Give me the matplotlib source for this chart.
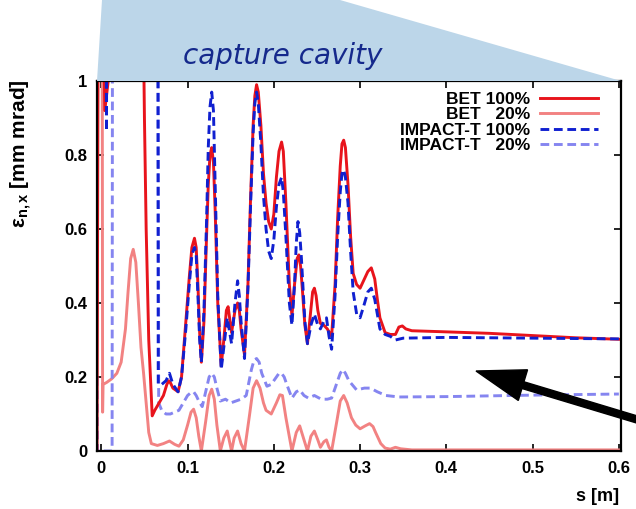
import matplotlib
matplotlib.use("Agg")
import matplotlib.pyplot as plt
from matplotlib.patches import Polygon, FancyArrow
from matplotlib.lines import Line2D

plt.rcParams["font.family"] = ["Liberation Sans", "DejaVu Sans"]
plt.rcParams["mathtext.fontset"] = "custom"
plt.rcParams["mathtext.rm"] = "Liberation Sans"
plt.rcParams["mathtext.bf"] = "Liberation Sans:bold"
plt.rcParams["mathtext.it"] = "Liberation Sans:italic"

# ---- data; values > 1 leave the frame ----
s_bet100 = [-0.005, -0.0035, 0.002, 0.004, 0.008, 0.012, 0.048, 0.050, 0.052, 0.055, 0.059,
            0.062, 0.067, 0.072, 0.076, 0.078, 0.080, 0.083, 0.089, 0.093, 0.098, 0.102,
            0.105, 0.108, 0.110, 0.112, 0.114, 0.116, 0.119, 0.122, 0.124, 0.126, 0.128,
            0.130, 0.132, 0.135, 0.139, 0.142, 0.145, 0.147, 0.151, 0.155, 0.158, 0.160,
            0.162, 0.166, 0.170, 0.173, 0.176, 0.178, 0.180, 0.182, 0.185, 0.188, 0.191,
            0.194, 0.197, 0.200, 0.203, 0.206, 0.209, 0.211, 0.214, 0.218, 0.221, 0.224,
            0.227, 0.229, 0.231, 0.233, 0.236, 0.239, 0.242, 0.245, 0.247, 0.249, 0.251,
            0.254, 0.258, 0.262, 0.267, 0.271, 0.274, 0.277, 0.279, 0.281, 0.283, 0.286,
            0.289, 0.292, 0.296, 0.300, 0.304, 0.309, 0.313, 0.317, 0.320, 0.323, 0.329,
            0.335, 0.341, 0.345, 0.349, 0.353, 0.36, 0.40, 0.45, 0.50, 0.55, 0.60]
e_bet100 = [0.0, 1.3, 1.3, 0.92, 1.0, 1.3, 1.3, 0.9, 0.6, 0.3, 0.095,
            0.11, 0.13, 0.15, 0.18, 0.19, 0.185, 0.17, 0.16, 0.2, 0.35, 0.47,
            0.55, 0.575, 0.55, 0.45, 0.32, 0.24, 0.35, 0.58, 0.72, 0.80, 0.82,
            0.78, 0.65, 0.4, 0.23, 0.3, 0.38, 0.39, 0.32, 0.38, 0.40, 0.38,
            0.33, 0.26, 0.45, 0.68, 0.88, 0.96, 0.99, 0.97, 0.88, 0.75, 0.67,
            0.62, 0.60, 0.64, 0.74, 0.81, 0.835, 0.81, 0.67, 0.45, 0.365, 0.45,
            0.52, 0.53, 0.50, 0.44, 0.34, 0.29, 0.36, 0.43, 0.44, 0.42, 0.38,
            0.345, 0.34, 0.33, 0.31, 0.45, 0.63, 0.77, 0.83, 0.84, 0.82, 0.72,
            0.58, 0.48, 0.45, 0.44, 0.46, 0.485, 0.495, 0.465, 0.41, 0.36, 0.32,
            0.315, 0.315, 0.335, 0.338, 0.33, 0.325, 0.322, 0.318, 0.312, 0.306, 0.302]

s_bet20 = [-0.0055, -0.005, 0.001, 0.0015, 0.002, 0.006, 0.012, 0.018, 0.023, 0.028,
           0.031, 0.034, 0.037, 0.040, 0.043, 0.046, 0.049, 0.052, 0.055, 0.058, 0.065,
           0.072, 0.079, 0.085, 0.090, 0.095, 0.100, 0.104, 0.107, 0.110, 0.113, 0.116,
           0.121, 0.125, 0.128, 0.131, 0.134, 0.138, 0.142, 0.146, 0.151, 0.154, 0.158,
           0.162, 0.166, 0.172, 0.176, 0.180, 0.184, 0.188, 0.191, 0.197, 0.203, 0.207,
           0.210, 0.214, 0.221, 0.226, 0.230, 0.235, 0.239, 0.243, 0.247, 0.251, 0.254,
           0.258, 0.261, 0.264, 0.267, 0.273, 0.277, 0.281, 0.285, 0.290, 0.295, 0.300,
           0.306, 0.311, 0.315, 0.318, 0.324, 0.329, 0.335, 0.341, 0.347, 0.36, 0.60]
e_bet20 = [0.0, 1.3, 1.3, 0.105, 0.18, 0.185, 0.195, 0.21, 0.24, 0.33,
           0.43, 0.52, 0.545, 0.51, 0.40, 0.28, 0.21, 0.13, 0.05, 0.02, 0.015,
           0.02, 0.027, 0.018, 0.013, 0.03, 0.07, 0.105, 0.113, 0.09, 0.04, 0.0,
           0.08, 0.15, 0.167, 0.14, 0.07, 0.0, 0.035, 0.054, 0.0, 0.035, 0.054,
           0.02, 0.0, 0.1, 0.17, 0.19, 0.17, 0.13, 0.11, 0.10, 0.13, 0.152,
           0.15, 0.09, 0.0, 0.05, 0.068, 0.03, 0.0, 0.04, 0.054, 0.03, 0.01,
           0.025, 0.03, 0.01, 0.0, 0.08, 0.135, 0.15, 0.13, 0.09, 0.07, 0.06,
           0.068, 0.074, 0.066, 0.05, 0.02, 0.008, 0.005, 0.01, 0.006, 0.003, 0.003]

s_imp100 = [-0.005, 0.0055, 0.006, 0.0065, 0.0655, 0.066, 0.070, 0.075, 0.079, 0.083,
            0.089, 0.093, 0.098, 0.102, 0.105, 0.108, 0.110, 0.112, 0.114, 0.116,
            0.119, 0.122, 0.124, 0.126, 0.128, 0.130, 0.132, 0.135, 0.139, 0.142,
            0.146, 0.151, 0.155, 0.158, 0.160, 0.162, 0.166, 0.170, 0.173, 0.176,
            0.178, 0.180, 0.182, 0.185, 0.188, 0.191, 0.194, 0.197, 0.200, 0.203,
            0.206, 0.209, 0.211, 0.214, 0.218, 0.221, 0.224, 0.226, 0.228, 0.230,
            0.232, 0.236, 0.239, 0.243, 0.247, 0.251, 0.254, 0.258, 0.261, 0.264,
            0.267, 0.271, 0.274, 0.277, 0.279, 0.281, 0.283, 0.286, 0.289, 0.292,
            0.296, 0.300, 0.304, 0.309, 0.313, 0.317, 0.320, 0.323, 0.329, 0.335,
            0.341, 0.35, 0.40, 0.50, 0.60]
e_imp100 = [1.3, 1.3, 0.865, 1.3, 1.3, 0.18, 0.18, 0.19, 0.21, 0.18,
            0.16, 0.2, 0.33, 0.45, 0.53, 0.55, 0.53, 0.42, 0.3, 0.24,
            0.38, 0.62, 0.82, 0.93, 0.97, 0.92, 0.72, 0.42, 0.22, 0.28,
            0.36, 0.29, 0.40, 0.46, 0.42, 0.35, 0.25, 0.44, 0.66, 0.86,
            0.94, 0.97, 0.94, 0.83, 0.69, 0.6, 0.54, 0.52, 0.57, 0.66,
            0.72, 0.74, 0.70, 0.58, 0.40, 0.34, 0.45, 0.56, 0.62, 0.59,
            0.52, 0.35, 0.29, 0.34, 0.37, 0.34, 0.33, 0.35, 0.36, 0.31,
            0.275, 0.42, 0.58, 0.70, 0.75, 0.76, 0.74, 0.67, 0.54, 0.43,
            0.37, 0.36, 0.39, 0.43, 0.44, 0.41, 0.37, 0.33, 0.315, 0.31,
            0.30, 0.305, 0.307, 0.305, 0.303]

s_imp20 = [-0.005, -0.0045, 0.0125, 0.013, 0.066, 0.0665, 0.070, 0.075, 0.080, 0.085,
           0.090, 0.095, 0.100, 0.104, 0.107, 0.110, 0.113, 0.117, 0.122, 0.125,
           0.128, 0.131, 0.134, 0.138, 0.144, 0.150, 0.156, 0.162, 0.168, 0.174,
           0.177, 0.180, 0.183, 0.186, 0.192, 0.197, 0.203, 0.206, 0.209, 0.212,
           0.215, 0.221, 0.226, 0.230, 0.235, 0.240, 0.247, 0.255, 0.262, 0.267,
           0.274, 0.277, 0.280, 0.283, 0.287, 0.296, 0.305, 0.312, 0.320, 0.330,
           0.345, 0.40, 0.50, 0.60]
e_imp20 = [0.2, 0.0, 0.0, 1.3, 1.3, 0.13, 0.11, 0.10, 0.10, 0.105,
           0.11, 0.13, 0.15, 0.158, 0.16, 0.15, 0.135, 0.12, 0.17, 0.20,
           0.21, 0.20, 0.17, 0.135, 0.14, 0.13, 0.135, 0.14, 0.15, 0.22,
           0.245, 0.25, 0.24, 0.21, 0.175, 0.18, 0.20, 0.21, 0.21, 0.20,
           0.18, 0.143, 0.16, 0.165, 0.15, 0.143, 0.15, 0.14, 0.14, 0.143,
           0.19, 0.21, 0.22, 0.21, 0.19, 0.165, 0.17, 0.17, 0.16, 0.15,
           0.146, 0.147, 0.151, 0.154]

labels = ["BET 100%", "BET   20%", "IMPACT-T 100%", "IMPACT-T   20%"]

RED = "#e8141c"
LRED = "#f28282"
BLUE = "#1020d0"
LBLUE = "#8585f0"
DASH = (0, (3.0, 1.6))

W, H = 636, 509
fig = plt.figure(figsize=(W / 100, H / 100), dpi=100)
fig.patch.set_facecolor("white")

# cavity banner (pixel coords -> figure fraction)
def fpx(x, y):
    return (x / W, 1 - y / H)

banner = [fpx(102, 0), fpx(340, 0), fpx(621, 81), fpx(97, 81)]
fig.patches.append(Polygon(banner, closed=True, transform=fig.transFigure,
                           facecolor="#bcd6e9", edgecolor="none", zorder=0))
fig.text(*fpx(283, 56), "capture cavity", fontsize=20, style="italic",
         family="DejaVu Sans", color="#15298c", ha="center", va="center")

ax = fig.add_axes([97 / W, 1 - 451 / H, (621 - 97) / W, (451 - 81) / H])
ax.set_xlim(-0.005, 0.6025)
ax.set_ylim(0, 1)

kw = dict(lw=2.1, solid_joinstyle="round", dash_joinstyle="round")
ax.plot(s_bet20, e_bet20, color=LRED, zorder=2, **kw)
ax.plot(s_imp20, e_imp20, color=LBLUE, ls=DASH, zorder=2.1, **kw)
ax.plot(s_bet100, e_bet100, color=RED, zorder=2.2, **kw)
ax.plot(s_imp100, e_imp100, color=BLUE, ls=DASH, zorder=2.3, **kw)

ax.set_xticks([0, 0.1, 0.2, 0.3, 0.4, 0.5, 0.6])
ax.set_xticklabels(["0", "0.1", "0.2", "0.3", "0.4", "0.5", "0.6"])
ax.set_yticks([0, 0.2, 0.4, 0.6, 0.8, 1])
ax.set_yticklabels(["0", "0.2", "0.4", "0.6", "0.8", "1"])
ax.tick_params(direction="in", length=5, width=1.2, top=True, right=True,
               labelsize=12, pad=7)
for t in ax.get_xticklabels() + ax.get_yticklabels():
    t.set_fontweight("bold")
for sp in ax.spines.values():
    sp.set_linewidth(1.6)

ax.set_ylabel("ε$_{\\mathbf{n,x}}$ [mm mrad]", fontsize=15, fontweight="bold")
ax.yaxis.set_label_coords(-0.12, 0.805)
ax.set_xlabel("s [m]", fontsize=13, fontweight="bold")
ax.xaxis.set_label_coords(0.955, -0.10)

handles = [Line2D([0], [0], color=RED, lw=2.1),
           Line2D([0], [0], color=LRED, lw=2.1),
           Line2D([0], [0], color=BLUE, lw=2.1, ls=DASH),
           Line2D([0], [0], color=LBLUE, lw=2.1, ls=DASH)]
leg = ax.legend(handles, labels, loc="upper right", bbox_to_anchor=(0.972, 0.995),
                frameon=False, markerfirst=False, fontsize=12.5, handlelength=3.3,
                handletextpad=0.6, labelspacing=0.02, borderpad=0)
for t in leg.get_texts():
    t.set_fontweight("bold")

# pointer arrow (inches from lower-left corner)
tx, ty = 6.42, (H - 421) / 100
hx, hy = 4.76, (H - 371) / 100
fig.patches.append(FancyArrow(tx, ty, hx - tx, hy - ty, width=0.07, head_width=0.32,
                              head_length=0.49, length_includes_head=True,
                              transform=fig.dpi_scale_trans, color="black", zorder=5))

fig.savefig("out.png", dpi=100, facecolor="white")
